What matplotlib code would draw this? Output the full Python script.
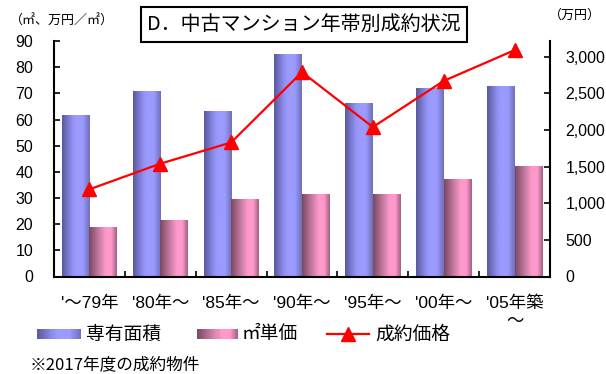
import numpy as np
import matplotlib
matplotlib.use("Agg")
import matplotlib.pyplot as plt
from matplotlib.colors import LinearSegmentedColormap
from matplotlib.patches import Rectangle
from matplotlib.lines import Line2D

# ---- data -------------------------------------------------------------
categories = ["'～79年", "'80年～", "'85年～", "'90年～", "'95年～", "'00年～", "'05年築\n～"]
area = [61.7, 70.9, 63.3, 85.0, 66.4, 72.0, 72.8]          # 専有面積 (㎡)
unit_price = [18.9, 21.6, 29.5, 31.6, 31.6, 37.3, 42.3]     # ㎡単価 (万円/㎡)
price = [1190, 1540, 1830, 2790, 2040, 2670, 3090]          # 成約価格 (万円)

left_ticks = list(range(0, 91, 10))
right_ticks = list(range(0, 3001, 500))

series_names = ["専有面積", "㎡単価", "成約価格"]
title = "D．中古マンション年帯別成約状況"
note = "※2017年度の成約物件"

# ---- style --------------------------------------------------------------
JP = ["Noto Sans CJK JP", "DejaVu Sans"]
MIX = ["Liberation Sans", "Noto Sans CJK JP", "DejaVu Sans"]
plt.rcParams["font.family"] = JP

W, H = 606, 374
fx = lambda x: x / W
fy = lambda y: 1 - y / H

blue_cmap = LinearSegmentedColormap.from_list(
    "blue_bar", [(0, "#58589c"), (0.38, "#9292f4"), (0.5, "#9a9aff"),
                 (0.75, "#9a9aff"), (1, "#6e6eb6")])
pink_cmap = LinearSegmentedColormap.from_list(
    "pink_bar", [(0, "#7a4862"), (0.35, "#c47aa0"), (0.6, "#ff99cc"),
                 (0.8, "#ff99cc"), (1, "#a05e80")])

fig = plt.figure(figsize=(W / 100, H / 100), dpi=100)
ax = fig.add_axes([fx(54), fy(276.5), fx(550) - fx(54), fy(41) - fy(276.5)])
ax2 = ax.twinx()

x = np.arange(len(categories))
bw = 0.39


def gradient_bars(axis, xs, heights, cmap):
    bars = axis.bar(xs, heights, width=bw, color=cmap(0.6), edgecolor="none", zorder=2)
    grad = np.linspace(0, 1, 256).reshape(1, -1)
    for patch in bars.patches:
        x0 = patch.get_x()
        x1 = x0 + patch.get_width()
        h = patch.get_height()
        im = axis.imshow(grad, extent=[x0, x1, 0, h], aspect="auto", cmap=cmap,
                         interpolation="bilinear", zorder=2.1)
        im.set_clip_path(patch)
    return bars


gradient_bars(ax, x - bw / 2, area, blue_cmap)
gradient_bars(ax, x + bw / 2, unit_price, pink_cmap)

ax.set_xlim(-0.5, len(categories) - 0.5)
ax.set_ylim(0, 90)
ax.set_yticks(left_ticks)
ax.set_yticklabels([str(v) for v in left_ticks], fontsize=11.5, family=MIX)
ax.set_xticks(x)
ax.set_xticklabels(categories, fontsize=12.5, family=MIX, linespacing=1.25)
ax.set_xticks(np.arange(0.5, len(categories) - 0.5, 1), minor=True)
ax.tick_params(axis="x", which="major", length=0, pad=14)
ax.tick_params(axis="x", which="minor", direction="in", length=4, width=1.2)
ax.tick_params(axis="y", direction="in", length=4, width=1.2, pad=15)

ax2.plot(x, price, color="#ff0000", lw=1.6, marker="^", markersize=10,
         markeredgecolor="#ff0000", markerfacecolor="#ff0000", zorder=5)
ax2.set_ylim(0, 3215)
ax2.set_yticks(right_ticks)
ax2.set_yticklabels([f"{v:,}" for v in right_ticks], fontsize=11.5, family=MIX)
ax2.tick_params(axis="y", direction="in", length=4, width=1.2, pad=11)

for a in (ax, ax2):
    a.spines["top"].set_visible(False)
    for s in a.spines.values():
        s.set_linewidth(1.5)
        s.set_color("black")
ax2.spines["left"].set_visible(False)
ax2.spines["bottom"].set_visible(False)
ax.spines["right"].set_visible(False)

# ---- title box and unit captions ---------------------------------------
fig.add_artist(Rectangle((fx(141), fy(41.7)), fx(467) - fx(141), fy(7) - fy(41.7),
                         transform=fig.transFigure, facecolor="white",
                         edgecolor="black", lw=1.5, zorder=6))
fig.text(fx(304), fy(24.5), title, fontsize=14.4, ha="center", va="center", zorder=7)
fig.text(fx(10), fy(21.5), "（㎡、万円／㎡）", fontsize=9.4, ha="left", va="center")
fig.text(fx(549), fy(15), "（万円）", fontsize=9.4, ha="left", va="center")

# ---- legend ----------------------------------------------------------------
def legend_gradient(x0, x1, yc, hgt, cmap, n=40):
    step = (x1 - x0) / n
    for i in range(n):
        fig.add_artist(Rectangle((fx(x0 + i * step), fy(yc + hgt / 2)), fx(step) + 0.0005,
                                 fy(yc - hgt / 2) - fy(yc + hgt / 2),
                                 transform=fig.transFigure, facecolor=cmap((i + 0.5) / n),
                                 edgecolor="none"))

ly = 334
legend_gradient(37, 81, ly, 10, blue_cmap)
fig.text(fx(86), fy(ly), series_names[0], fontsize=13.5, ha="left", va="center")
legend_gradient(197, 238, ly, 10, pink_cmap)
fig.text(fx(242), fy(ly), series_names[1], fontsize=13.5, ha="left", va="center")
fig.add_artist(Line2D([fx(327), fx(369)], [fy(ly), fy(ly)], transform=fig.transFigure,
                      color="#ff0000", lw=1.6))
fig.add_artist(Line2D([fx(348)], [fy(ly)], transform=fig.transFigure, marker="^",
                      markersize=10, color="#ff0000", lw=0))
fig.text(fx(375), fy(ly), series_names[2], fontsize=13.5, ha="left", va="center")

fig.text(fx(30), fy(365), note, fontsize=12, ha="left", va="center")

fig.savefig("out.png", dpi=100)
